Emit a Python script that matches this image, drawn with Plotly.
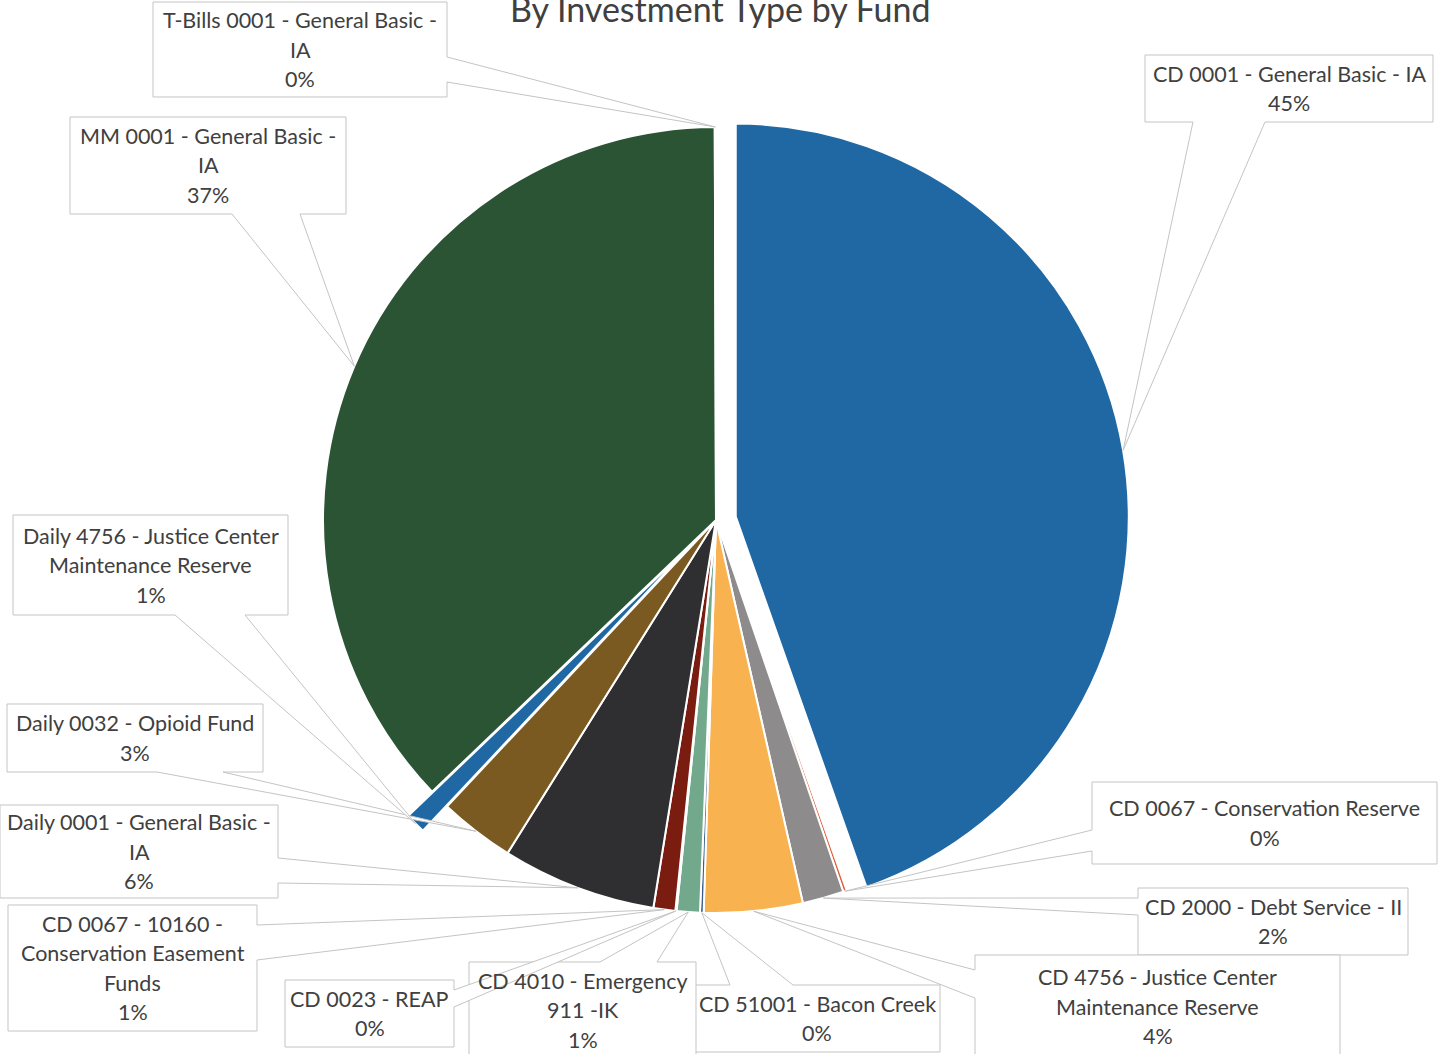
import math
import plotly.graph_objects as go

# ---------------- data ----------------
categories = [
    "CD 0001 - General Basic - IA",
    "CD 0067 - Conservation Reserve",
    "CD 2000 - Debt Service - II",
    "CD 4756 - Justice Center Maintenance Reserve",
    "CD 51001 - Bacon Creek",
    "CD 4010 - Emergency 911 -IK",
    "CD 0023 - REAP",
    "CD 0067 - 10160 - Conservation Easement Funds",
    "Daily 0001 - General Basic - IA",
    "Daily 0032 - Opioid Fund",
    "Daily 4756 - Justice Center Maintenance Reserve",
    "MM 0001 - General Basic - IA",
    "T-Bills 0001 - General Basic - IA",
]
values = [44.6, 0.15, 1.7, 4.05, 0.15, 0.95, 0.05, 0.9, 6.35, 3.1, 0.85, 37.1, 0.05]
# label text as wrapped in the chart's callouts
label_lines = [
    ["CD 0001 - General Basic - IA"],
    ["CD 0067 - Conservation Reserve"],
    ["CD 2000 - Debt Service - II"],
    ["CD 4756 - Justice Center", "Maintenance Reserve"],
    ["CD 51001 - Bacon Creek"],
    ["CD 4010 - Emergency", "911 -IK"],
    ["CD 0023 - REAP"],
    ["CD 0067 - 10160 -", "Conservation Easement", "Funds"],
    ["Daily 0001 - General Basic -", "IA"],
    ["Daily 0032 - Opioid Fund"],
    ["Daily 4756 - Justice Center", "Maintenance Reserve"],
    ["MM 0001 - General Basic -", "IA"],
    ["T-Bills 0001 - General Basic -", "IA"],
]
title_text = "By Investment Type by Fund"

# ---------------- styles / layout ----------------
colors = ["#1f68a3", "#e0603a", "#8d8b8c", "#f8b24f", "#3b5f8a", "#72a88b", "#9dc3e6",
          "#7a1c10", "#2f2e31", "#7b5a22", "#1f68a3", "#2b5435", "#a5a5a5"]
pulls = [0.051, 0, 0, 0, 0, 0, 0, 0, 0, 0, 0.087, 0, 0]

# callout boxes in page pixels: (x0, y0, x1, y1), side of wedge, wedge attach points
callouts = [
    ((1145, 55, 1433, 122), "bottom", (1193, 1265)),
    ((1092, 782, 1437, 864), "left", (830, 851)),
    ((1138, 888, 1408, 955), "left", (898, 915)),
    ((975, 955, 1340, 1058), "left", (970, 998)),
    ((694, 985, 940, 1052), "top", (730, 793)),
    ((469, 962, 696, 1058), "top", (600, 657)),
    ((285, 980, 454, 1047), "right", (990, 1007)),
    ((8, 905, 257, 1031), "right", (925, 960)),
    ((0, 805, 278, 898), "right", (858, 883)),
    ((7, 704, 263, 772), "bottom", (157, 223)),
    ((13, 515, 288, 615), "bottom", (175, 245)),
    ((70, 117, 346, 214), "bottom", (232, 300)),
    ((153, 2, 447, 97), "right", (57, 82)),
]

W, H = 1442, 1054
CX, CY, R = 716, 520, 393
FONT = "Lato"
TXT = "#404040"
LINE_H = 29.5
LABEL_SIZE = 21.5

max_pull = max(pulls)
half = R * (1 + max_pull)
domain_x = [(CX - half) / W, (CX + half) / W]
domain_y = [(H - CY - half) / H, (H - CY + half) / H]


def P(x, y):
    return x / W, 1 - y / H


fig = go.Figure(go.Pie(
    labels=categories, values=values, sort=False, direction="clockwise", rotation=0,
    pull=pulls, marker=dict(colors=colors, line=dict(color="white", width=2)),
    textinfo="none", hoverinfo="label+percent", showlegend=False,
    domain=dict(x=domain_x, y=domain_y),
))

total = sum(values)
shapes, annotations = [], []
cum = 0.0
for i, v in enumerate(values):
    a0 = cum / total * 360
    cum += v
    a1 = cum / total * 360
    mid = math.radians((a0 + a1) / 2)
    rr = R * (1 + pulls[i])
    tip = (CX + rr * math.sin(mid), CY - rr * math.cos(mid))

    (x0, y0, x1, y1), side, (p, q) = callouts[i]
    pts = [(x0, y0)]
    if side == "top":
        pts += [(p, y0), tip, (q, y0)]
    pts.append((x1, y0))
    if side == "right":
        pts += [(x1, p), tip, (x1, q)]
    pts.append((x1, y1))
    if side == "bottom":
        pts += [(q, y1), tip, (p, y1)]
    pts.append((x0, y1))
    if side == "left":
        pts += [(x0, q), tip, (x0, p)]
    path = "M " + " L ".join("%.5f,%.5f" % P(*pt) for pt in pts) + " Z"
    shapes.append(dict(type="path", path=path, xref="paper", yref="paper",
                       fillcolor="white", line=dict(color="#c4c4c4", width=1), layer="above"))

    pct = "%d%%" % round(v / total * 100)
    lines = label_lines[i] + [pct]
    n = len(lines)
    bx, by = (x0 + x1) / 2, (y0 + y1) / 2
    for k, ln in enumerate(lines):
        lx, ly = P(bx, by + (k - (n - 1) / 2) * LINE_H)
        annotations.append(dict(text=ln, x=lx, y=ly, xref="paper", yref="paper",
                                showarrow=False, xanchor="center", yanchor="middle",
                                font=dict(family=FONT, size=LABEL_SIZE, color=TXT)))

annotations.append(dict(text=title_text, x=720 / W, y=1 + 14 / H, xref="paper", yref="paper",
                        showarrow=False, xanchor="center", yanchor="top",
                        font=dict(family=FONT, size=34, color=TXT)))

fig.update_layout(
    width=W, height=H, autosize=False,
    margin=dict(l=0, r=0, t=0, b=0),
    paper_bgcolor="white", plot_bgcolor="white",
    font=dict(family=FONT, color=TXT),
    shapes=shapes, annotations=annotations,
)

fig.write_html("out.html", config={"displayModeBar": False},
               post_script="document.body.style.margin='0px';document.body.style.overflow='hidden';")
